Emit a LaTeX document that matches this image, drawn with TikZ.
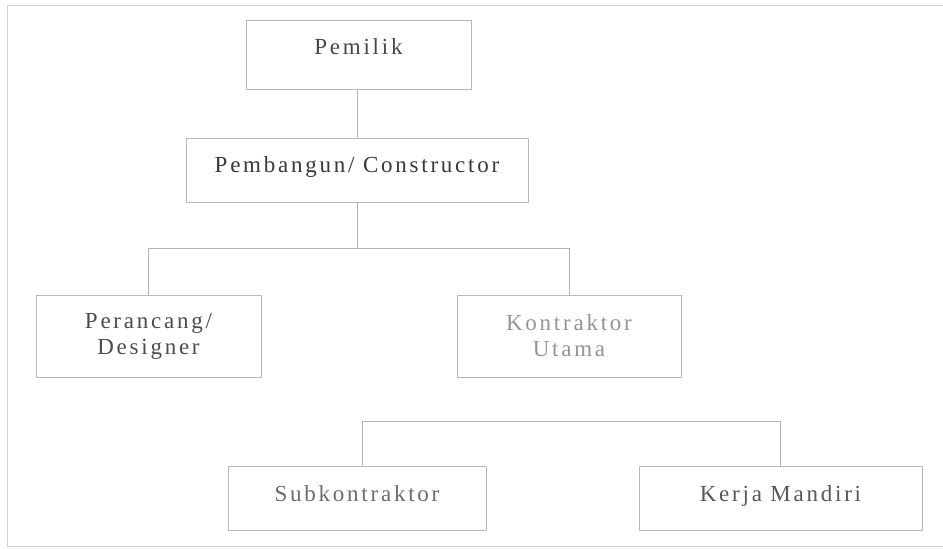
\documentclass[tikz,border=0pt]{standalone}
\usepackage{fontspec}
\setmainfont{Liberation Serif}[LetterSpace=12]
\begin{document}
\begin{tikzpicture}[x=1pt,y=-1pt,
  box/.style={draw=gray!55, line width=0.8pt, inner sep=0pt, align=center,
    font=\fontsize{23}{26}\selectfont},
  wire/.style={draw=gray!60, line width=0.8pt},
  frame/.style={draw=gray!35, line width=0.8pt}]
\useasboundingbox (0,0) rectangle (943,549);
% outer frame of the sheet (open on the right)
\coordinate (ftr) at (943,5);
\coordinate (ftl) at (7,5);
\coordinate (fbl) at (7,546);
\coordinate (fbr) at (943,546);
\draw[frame] (ftr) -- (ftl) -- (fbl) -- (fbr);
% boxes
\node[box, minimum width=225, minimum height=69, text height=16, text depth=18, text=black!72] (pemilik) at (358.5,55) {Pemilik};
\node[box, minimum width=342, minimum height=64, text height=16, text depth=12, text=black!78] (constructor) at (357,170) {Pembangun/ Constructor};
\node[box, minimum width=225, minimum height=82, text=black!70] (perancang) at (148.5,336) {Perancang/\\Designer};
\node[box, minimum width=224, minimum height=82, text=black!42] (kontraktor) at (569,336) {Kontraktor\\Utama};
\node[box, minimum width=258, minimum height=64, text height=16, text depth=10, text=black!58] (sub) at (357,498) {Subkontraktor};
\node[box, minimum width=283, minimum height=64, text height=16, text depth=10, text=black!66] (kerja) at (780.5,498) {Kerja Mandiri};
% connectors
\draw[wire] (pemilik.south -| constructor.north) -- (constructor.north);
\draw[wire] (constructor.south) -- ++(0,46) coordinate (bus1);
\draw[wire] (perancang.north) |- (bus1) -| (kontraktor.north);
\coordinate (bus2) at (362,421);
\draw[wire] (sub.north -| bus2) |- (bus2) -| (kerja.north);
\end{tikzpicture}
\end{document}
